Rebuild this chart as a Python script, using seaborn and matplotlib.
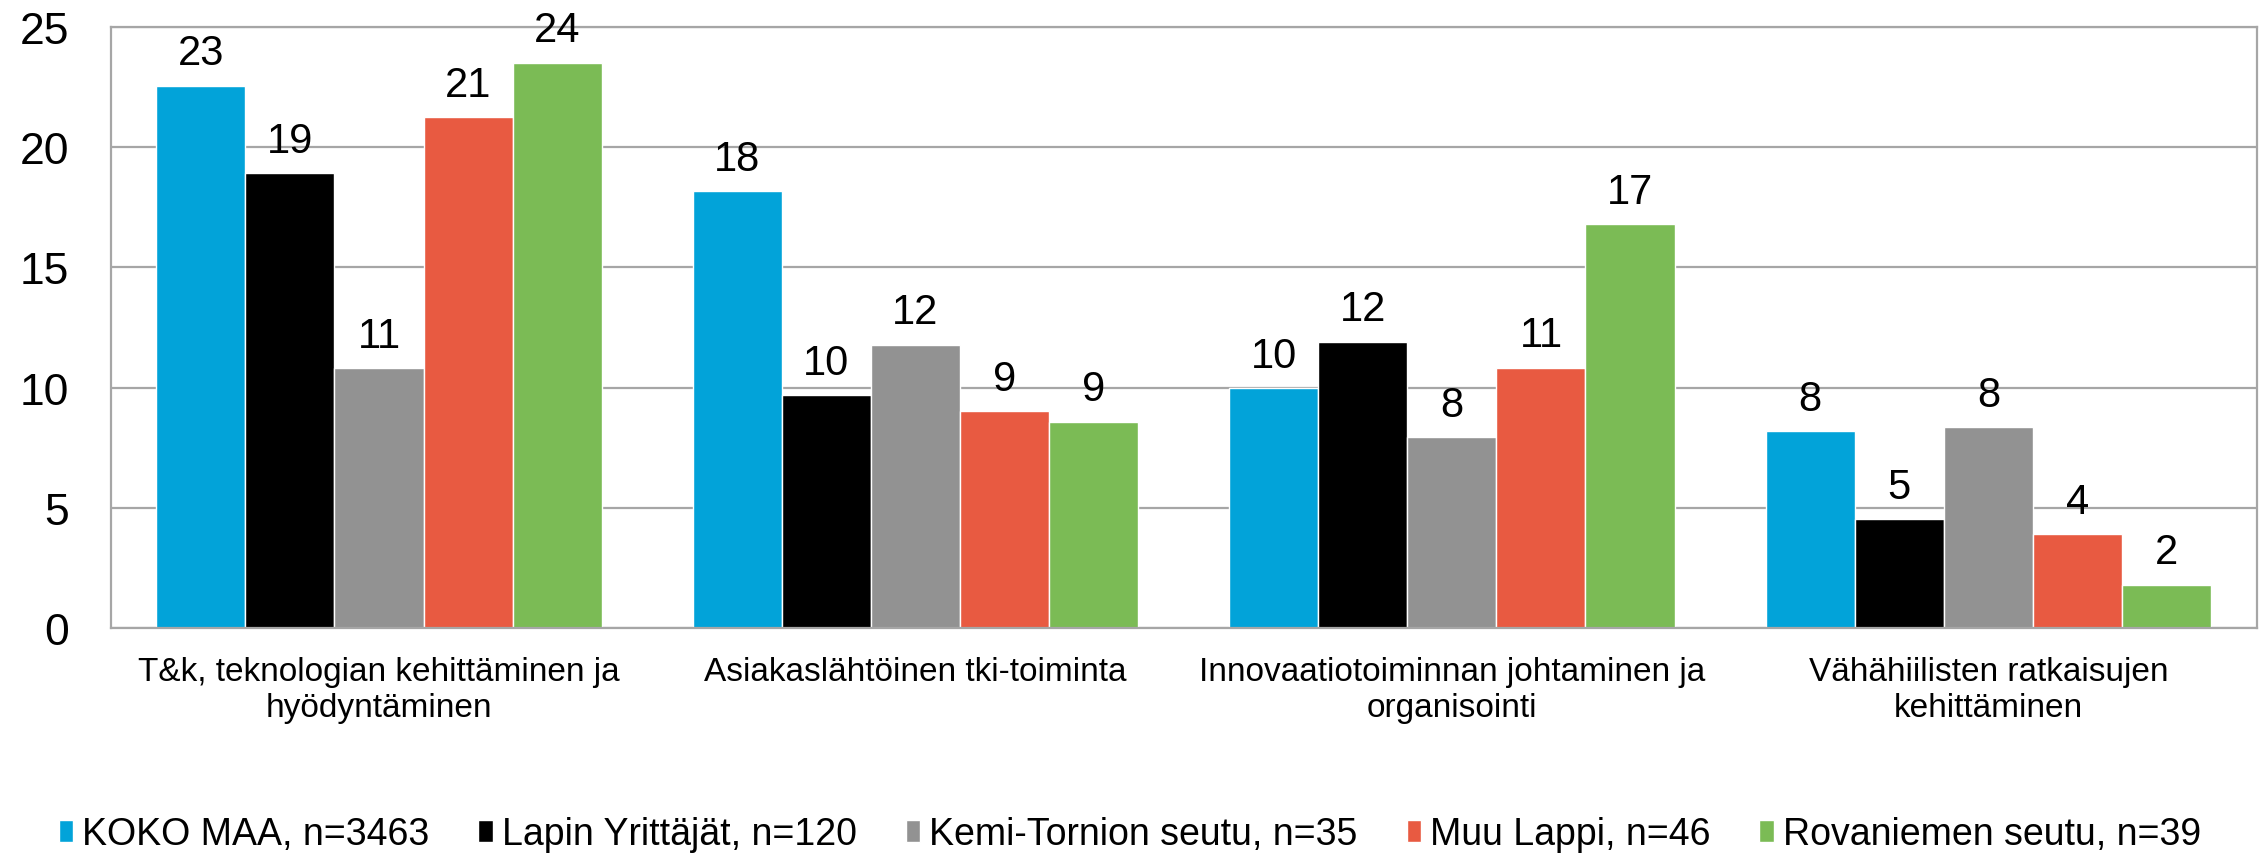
import pandas as pd
import seaborn as sns
import matplotlib.pyplot as plt

# --- DATA ---
categories = [
    'T&k, teknologian kehittäminen ja\nhyödyntäminen',
    'Asiakaslähtöinen tki-toiminta',
    'Innovaatiotoiminnan johtaminen ja\norganisointi',
    'Vähähiilisten ratkaisujen\nkehittäminen',
]
series = [
    'KOKO MAA, n=3463',
    'Lapin Yrittäjät, n=120',
    'Kemi-Tornion seutu, n=35',
    'Muu Lappi, n=46',
    'Rovaniemen seutu, n=39',
]
koko_maa = [22.57, 18.17, 9.98, 8.18]
lapin_yrittajat = [18.92, 9.68, 11.92, 4.52]
kemi_tornio = [10.80, 11.78, 7.93, 8.35]
muu_lappi = [21.25, 9.02, 10.82, 3.89]
rovaniemi = [23.51, 8.58, 16.79, 1.80]
colors = ['#02A3D9', '#000000', '#929292', '#E85A41', '#7BBB55']

values = [koko_maa, lapin_yrittajat, kemi_tornio, muu_lappi, rovaniemi]
rows = []
for s, vals in zip(series, values):
    for c, v in zip(categories, vals):
        rows.append({'Kategoria': c, 'Ryhmä': s, 'Arvo': v})
df = pd.DataFrame(rows)

# --- PLOT ---
sns.set_theme(style="white")
plt.rcParams['font.family'] = ['Liberation Sans', 'DejaVu Sans']
plt.rcParams['text.color'] = 'black'
plt.rcParams['xtick.color'] = 'black'
plt.rcParams['ytick.color'] = 'black'

fig = plt.figure(figsize=(22.6, 8.54), dpi=100)
ax = fig.add_axes([0.049, 0.2635, 0.9495, 0.7035])

sns.barplot(
    data=df,
    x='Kategoria',
    y='Arvo',
    hue='Ryhmä',
    hue_order=series,
    order=categories,
    palette=colors,
    saturation=1,
    width=0.83,
    errorbar=None,
    ax=ax,
)

for cont in ax.containers:
    ax.bar_label(cont, labels=[f'{b.get_height():.0f}' for b in cont],
                 padding=9, fontsize=30, color='black')

ax.set_ylim(0, 25)
ax.set_yticks([0, 5, 10, 15, 20, 25])
ax.yaxis.grid(True, color='#A6A6A6', linewidth=1.6)
ax.set_axisbelow(True)
for sp in ax.spines.values():
    sp.set_visible(True)
    sp.set_color('#A6A6A6')
    sp.set_linewidth(1.6)
ax.tick_params(axis='y', labelsize=32, pad=30, length=0, labelcolor='black')
ax.tick_params(axis='x', labelsize=24, pad=20, length=0, labelcolor='black')
ax.set_xlabel('')
ax.set_ylabel('')

ax.get_legend().remove()
handles, labels = ax.get_legend_handles_labels()
fig.legend(handles, labels, loc='center', bbox_to_anchor=(0.5, 0.022),
           ncol=5, frameon=False, fontsize=27, handlelength=0.38,
           handleheight=0.5, handletextpad=0.25, columnspacing=1.3,
           labelcolor='black')

fig.savefig('out.png', dpi=100)
plt.close(fig)
